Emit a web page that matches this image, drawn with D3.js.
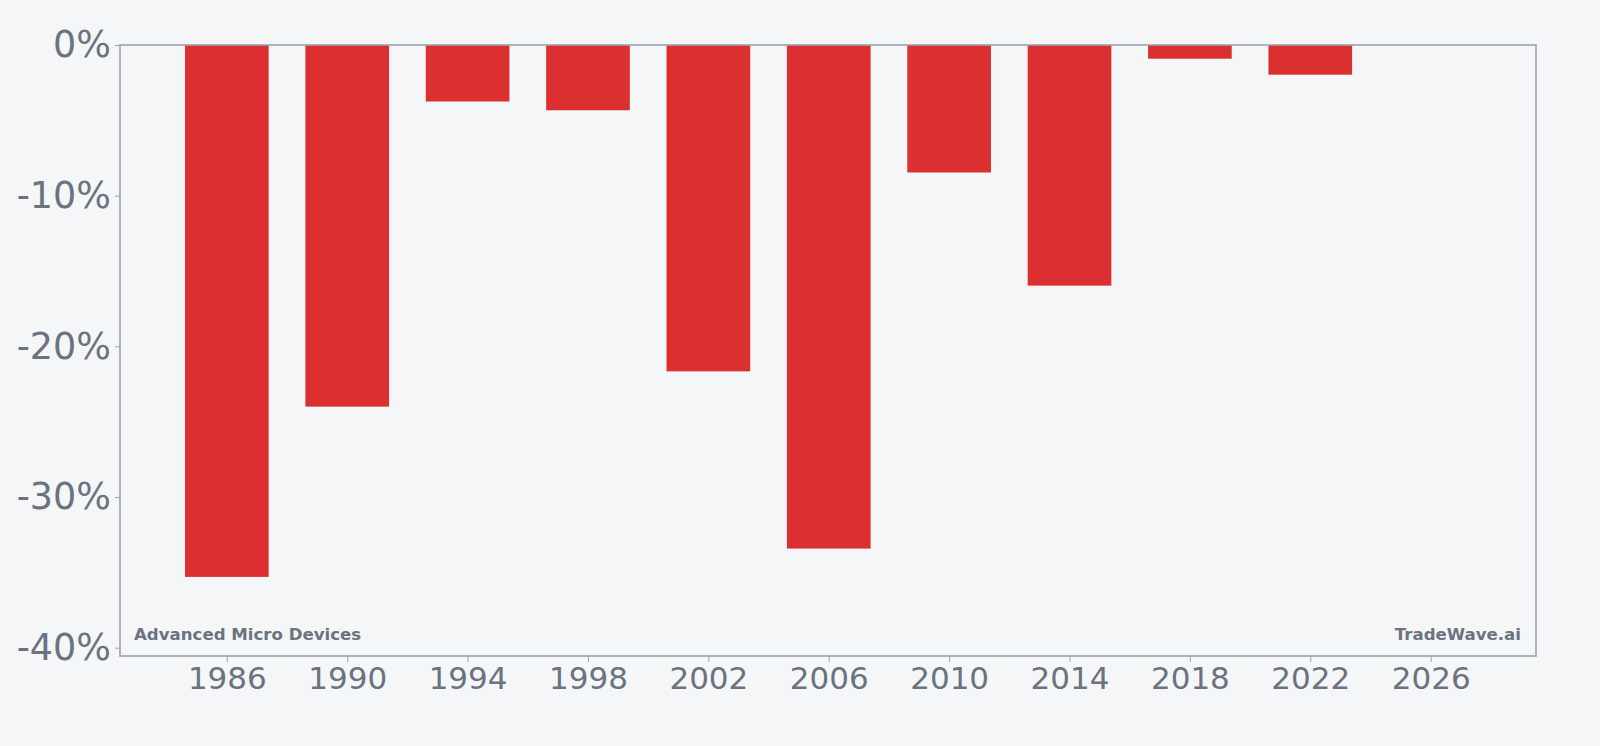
<!DOCTYPE html>
<html><head><meta charset="utf-8">
<script src="https://cdn.jsdelivr.net/npm/d3@7"></script>
<style>html,body{margin:0;padding:0;background:#f4f6f8;}svg{display:block;}</style>
</head><body>
<svg id="chart" width="1600" height="746"></svg>
<script>
const years = [1986, 1990, 1994, 1998, 2002, 2006, 2010, 2014, 2018, 2022];
const values = [-35.3, -24.0, -3.75, -4.33, -21.66, -33.42, -8.46, -15.97, -0.91, -1.97];
const xTicks = [1986, 1990, 1994, 1998, 2002, 2006, 2010, 2014, 2018, 2022, 2026];
const yTicks = [0, -10, -20, -30, -40];
const company = "Advanced Micro Devices";
const brand = "TradeWave.ai";

const svg = d3.select("#chart");
const m = {l:120, r:64, t:45, b:90};
const W = 1600, H = 746;
const x = d3.scaleLinear().domain([1982.45, 2029.5]).range([m.l, W - m.r]);
const y = d3.scaleLinear().domain([-40.55, 0]).range([H - m.b, m.t]);
const barW = x(1988.78) - x(1986);
const grey = "#6b7280", axisC = "#9ca3af";

svg.append("rect").attr("width", W).attr("height", H).attr("fill", "#f4f6f8");

svg.append("g").selectAll("rect").data(years).join("rect")
  .attr("x", (d) => x(d) - barW/2)
  .attr("y", y(0))
  .attr("width", barW)
  .attr("height", (d,i) => y(values[i]) - y(0))
  .attr("fill", "#dc3030");

const xa = svg.append("g").attr("transform", `translate(0,${H - m.b})`)
  .call(d3.axisBottom(x).tickValues(xTicks).tickFormat(d3.format("d")).tickSize(6).tickPadding(5));
xa.select(".domain").remove();
xa.selectAll("line").attr("stroke", axisC);
xa.selectAll("text").attr("fill", grey).attr("font-size", 31).attr("font-family", "DejaVu Sans");

const ya = svg.append("g").attr("transform", `translate(${m.l},0)`)
  .call(d3.axisLeft(y).tickValues(yTicks).tickFormat(d => d + "%").tickSize(5).tickPadding(4));
ya.select(".domain").remove();
ya.selectAll("line").attr("stroke", axisC);
ya.selectAll("text").attr("fill", grey).attr("font-size", 36.5).attr("font-family", "DejaVu Sans");

svg.append("rect").attr("x", m.l).attr("y", m.t)
  .attr("width", W - m.r - m.l).attr("height", H - m.b - m.t)
  .attr("fill", "none").attr("stroke", axisC).attr("stroke-width", 1.6);

svg.append("text").attr("x", m.l + 14).attr("y", H - m.b - 16)
  .attr("fill", grey).attr("font-size", 16.6).attr("font-weight", "bold")
  .attr("font-family", "DejaVu Sans").text(company);
svg.append("text").attr("x", W - m.r - 15).attr("y", H - m.b - 16)
  .attr("text-anchor", "end")
  .attr("fill", grey).attr("font-size", 16.6).attr("font-weight", "bold")
  .attr("font-family", "DejaVu Sans").text(brand);
</script>
</body></html>
